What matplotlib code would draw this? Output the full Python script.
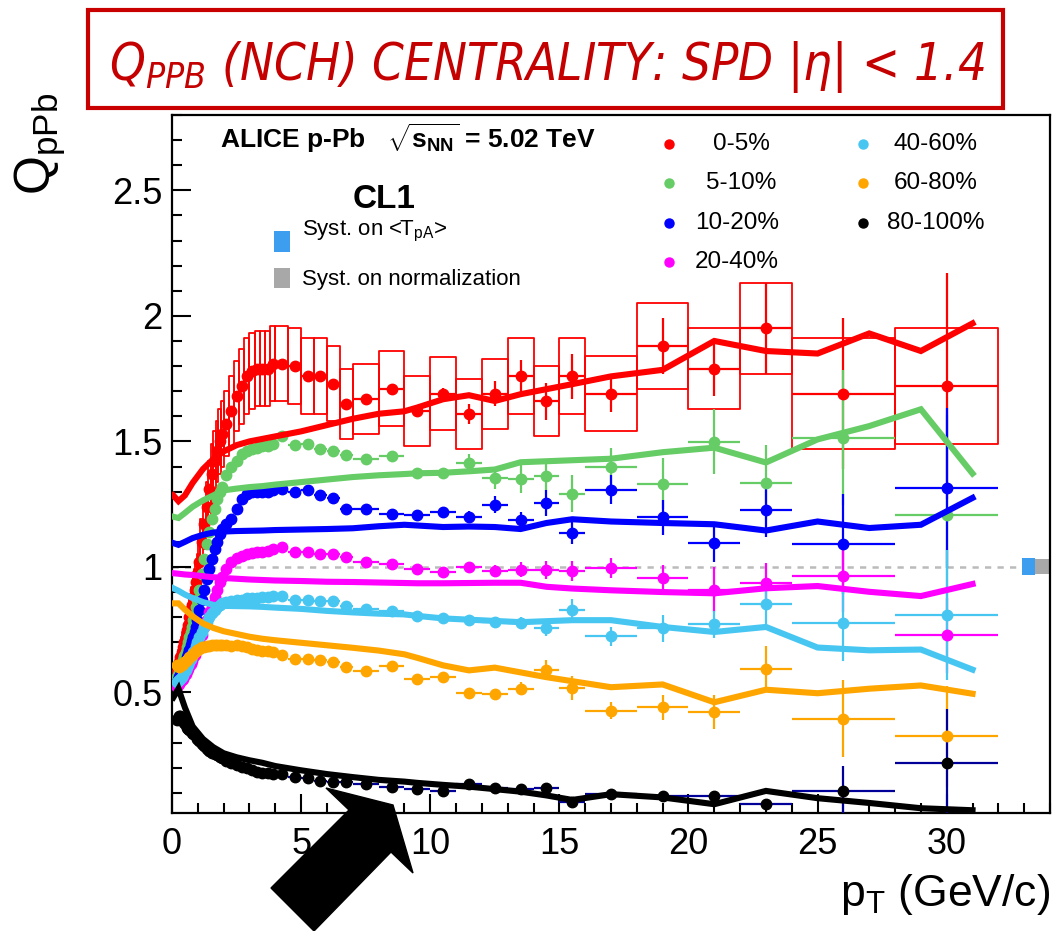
import matplotlib
matplotlib.use("Agg")
import numpy as np
import matplotlib.pyplot as plt
from matplotlib import font_manager
from matplotlib.font_manager import FontProperties
from matplotlib.patches import Rectangle, Polygon
from matplotlib.collections import PatchCollection
from matplotlib.lines import Line2D
from matplotlib.ticker import MultipleLocator, FuncFormatter

# pT bin edges (GeV/c)
pt_edges = [0.15, 0.2, 0.25, 0.3, 0.35, 0.4, 0.45, 0.5, 0.55, 0.6, 0.65, 0.7, 0.75,
            0.8, 0.85, 0.9, 0.95, 1.0, 1.1, 1.2, 1.3, 1.4, 1.5, 1.6, 1.7, 1.8, 1.9,
            2.0, 2.2, 2.4, 2.6, 2.8, 3.0, 3.2, 3.4, 3.6, 3.8, 4.0, 4.5, 5.0, 5.5,
            6.0, 6.5, 7.0, 8.0, 9.0, 10, 11, 12, 13, 14, 15, 16, 18, 20, 22, 24,
            28, 32]

centralities = ["0-5%", "5-10%", "10-20%", "20-40%", "40-60%", "60-80%", "80-100%"]

# Q_pPb data points, one value per pT bin
q_0_5 = [0.58, 0.60, 0.62, 0.64, 0.66, 0.68, 0.70, 0.72, 0.75, 0.77, 0.80, 0.82, 0.85,
         0.88, 0.91, 0.94, 0.97,
         1.02, 1.10, 1.17, 1.24, 1.31, 1.37, 1.42, 1.46, 1.50, 1.53,
         1.57, 1.62, 1.68, 1.72, 1.76, 1.78, 1.79, 1.79, 1.79, 1.81,
         1.81, 1.80, 1.76, 1.76, 1.73, 1.65,
         1.67, 1.71, 1.62, 1.69, 1.61, 1.69, 1.76, 1.66, 1.76, 1.69, 1.88, 1.79,
         1.95, 1.69, 1.72]
q_5_10 = [0.56, 0.57, 0.585, 0.60, 0.615, 0.63, 0.645, 0.66, 0.68, 0.70, 0.72, 0.74,
          0.76, 0.79, 0.81, 0.84, 0.87,
          0.91, 0.97, 1.03, 1.09, 1.14, 1.19, 1.23, 1.27, 1.30, 1.32,
          1.365, 1.40, 1.42, 1.45, 1.46, 1.47, 1.475, 1.48, 1.48, 1.49,
          1.52, 1.485, 1.49, 1.47, 1.46, 1.445,
          1.43, 1.44, 1.375, 1.375, 1.415, 1.355, 1.351, 1.361, 1.292, 1.397, 1.332,
          1.499, 1.335, 1.515, 1.205]
q_10_20 = [0.54, 0.55, 0.56, 0.57, 0.58, 0.595, 0.61, 0.625, 0.64, 0.655, 0.67, 0.69,
           0.705, 0.72, 0.74, 0.76, 0.79,
           0.83, 0.87, 0.91, 0.95, 0.99, 1.03, 1.07, 1.10, 1.13, 1.15,
           1.17, 1.19, 1.23, 1.27, 1.29, 1.30, 1.30, 1.30, 1.30, 1.305,
           1.31, 1.30, 1.305, 1.285, 1.275, 1.23,
           1.23, 1.21, 1.205, 1.217, 1.199, 1.248, 1.185, 1.255, 1.137, 1.308, 1.197,
           1.095, 1.228, 1.092, 1.315]
q_20_40 = [0.52, 0.53, 0.535, 0.54, 0.55, 0.555, 0.565, 0.575, 0.585, 0.595, 0.605,
           0.615, 0.625, 0.64, 0.65, 0.665, 0.68,
           0.70, 0.73, 0.76, 0.79, 0.82, 0.85, 0.88, 0.91, 0.94, 0.96,
           0.99, 1.02, 1.035, 1.045, 1.05, 1.055, 1.06, 1.06, 1.065, 1.07,
           1.08, 1.06, 1.06, 1.05, 1.05, 1.04,
           1.021, 1.012, 0.991, 0.981, 1.001, 0.984, 0.988, 0.988, 0.984, 0.995, 0.955,
           0.91, 0.937, 0.964, 0.728]
q_40_60 = [0.54, 0.545, 0.55, 0.555, 0.56, 0.57, 0.58, 0.59, 0.60, 0.61, 0.62, 0.635,
           0.645, 0.66, 0.67, 0.685, 0.70,
           0.72, 0.74, 0.76, 0.78, 0.80, 0.815, 0.83, 0.84, 0.85, 0.855,
           0.86, 0.865, 0.87, 0.87, 0.875, 0.875, 0.875, 0.88, 0.88, 0.885,
           0.885, 0.87, 0.87, 0.865, 0.865, 0.845,
           0.831, 0.825, 0.804, 0.795, 0.788, 0.781, 0.777, 0.755, 0.828, 0.724, 0.755,
           0.771, 0.851, 0.775, 0.808]
q_60_80 = [0.61, 0.605, 0.60, 0.605, 0.61, 0.615, 0.62, 0.625, 0.63, 0.635, 0.64, 0.645,
           0.65, 0.655, 0.66, 0.665, 0.67,
           0.675, 0.68, 0.68, 0.685, 0.685, 0.69, 0.69, 0.69, 0.69, 0.69,
           0.69, 0.685, 0.69, 0.685, 0.68, 0.675, 0.67, 0.665, 0.665, 0.66,
           0.65, 0.635, 0.635, 0.63, 0.62, 0.60,
           0.584, 0.604, 0.552, 0.561, 0.499, 0.495, 0.515, 0.588, 0.519, 0.428, 0.441,
           0.421, 0.595, 0.395, 0.325]
q_80_100 = [0.39, 0.40, 0.405, 0.405, 0.40, 0.39, 0.38, 0.37, 0.36, 0.355, 0.35, 0.345,
            0.34, 0.335, 0.33, 0.325, 0.315,
            0.305, 0.295, 0.285, 0.275, 0.268, 0.26, 0.255, 0.25, 0.243, 0.238,
            0.228, 0.218, 0.21, 0.203, 0.198, 0.192, 0.185, 0.18, 0.178, 0.175,
            0.175, 0.164, 0.159, 0.148, 0.145, 0.145,
            0.135, 0.124, 0.115, 0.108, 0.137, 0.119, 0.115, 0.121, 0.065, 0.095, 0.088,
            0.088, 0.057, 0.108, 0.221]

# statistical errors: below 7 GeV/c they are hidden by the markers
n_low = 43
stat_0_5 = [0] * n_low + [0.01, 0.015, 0.02, 0.023, 0.04, 0.05, 0.063, 0.073, 0.09,
                          0.073, 0.11, 0.11, 0.18, 0.30, 0.45]
stat_5_10 = [0] * n_low + [0.01, 0.01, 0.02, 0.02, 0.035, 0.043, 0.057, 0.053, 0.073,
                           0.075, 0.10, 0.13, 0.15, 0.27, 0.40]
stat_10_20 = [0] * n_low + [0.01, 0.012, 0.015, 0.02, 0.025, 0.033, 0.033, 0.053, 0.047,
                            0.057, 0.07, 0.075, 0.11, 0.20, 0.32]
stat_20_40 = [0] * n_low + [0.008, 0.01, 0.012, 0.015, 0.02, 0.025, 0.03, 0.035, 0.04,
                            0.04, 0.053, 0.09, 0.08, 0.144, 0.15]
stat_40_60 = [0] * n_low + [0.006, 0.008, 0.01, 0.012, 0.015, 0.02, 0.025, 0.03, 0.043,
                            0.037, 0.053, 0.053, 0.09, 0.15, 0.26]
stat_60_80 = [0] * n_low + [0.005, 0.006, 0.008, 0.01, 0.015, 0.02, 0.025, 0.04, 0.047,
                            0.033, 0.05, 0.067, 0.09, 0.153, 0.20]
stat_80_100 = [0] * n_low + [0.003, 0.004, 0.005, 0.006, 0.008, 0.01, 0.012, 0.015,
                             0.015, 0.015, 0.02, 0.02, 0.02, 0.10, 0.215]

# systematic uncertainty boxes (0-5% only)
sys_0_5 = [0.05, 0.05, 0.05, 0.05, 0.06, 0.06, 0.06, 0.06, 0.06, 0.07, 0.07, 0.07, 0.07,
           0.08, 0.08, 0.08, 0.08,
           0.09, 0.09, 0.10, 0.10, 0.11, 0.12, 0.12, 0.12, 0.13, 0.13,
           0.13, 0.14, 0.14, 0.15, 0.15, 0.15, 0.15, 0.15, 0.15, 0.15,
           0.15, 0.15, 0.15, 0.15, 0.15, 0.14,
           0.14, 0.15, 0.14, 0.145, 0.14, 0.14, 0.15, 0.14, 0.15, 0.15, 0.17, 0.16,
           0.18, 0.22, 0.23]

# model curves
model_pt = [0.05, 0.25, 0.5, 0.8, 1.2, 1.6, 2.0, 2.5, 3.0, 3.5, 4.0, 5.0, 6.0, 7.0, 8.0,
            9.0, 9.5, 10.5, 11.5, 12.5, 13.5, 14.5, 15.5, 17, 19, 21, 23, 25, 27, 29, 31]
model_0_5 = [1.285, 1.262, 1.285, 1.335, 1.39, 1.43, 1.46, 1.485, 1.50, 1.51, 1.52, 1.54,
             1.565, 1.59, 1.61, 1.62, 1.635, 1.668, 1.684, 1.661, 1.688, 1.708, 1.728,
             1.759, 1.785, 1.90, 1.86, 1.85, 1.93, 1.86, 1.97]
model_5_10 = [1.20, 1.195, 1.215, 1.24, 1.265, 1.285, 1.305, 1.312, 1.318, 1.322, 1.328,
              1.338, 1.348, 1.358, 1.365, 1.370, 1.373, 1.375, 1.381, 1.388, 1.417, 1.421,
              1.425, 1.431, 1.457, 1.475, 1.416, 1.508, 1.561, 1.628, 1.372]
model_10_20 = [1.095, 1.088, 1.10, 1.115, 1.128, 1.137, 1.141, 1.143, 1.144, 1.145, 1.147,
               1.149, 1.151, 1.154, 1.162, 1.168, 1.165, 1.159, 1.161, 1.159, 1.151, 1.175,
               1.19, 1.181, 1.175, 1.170, 1.145, 1.181, 1.155, 1.168, 1.275]
model_20_40 = [0.975, 0.973, 0.970, 0.968, 0.963, 0.959, 0.956, 0.953, 0.950, 0.948, 0.946,
               0.944, 0.941, 0.940, 0.938, 0.936, 0.935, 0.935, 0.936, 0.937, 0.937, 0.921,
               0.914, 0.907, 0.90, 0.895, 0.915, 0.924, 0.901, 0.884, 0.932]
model_40_60 = [0.915, 0.905, 0.89, 0.876, 0.86, 0.849, 0.845, 0.844, 0.843, 0.841, 0.838,
               0.833, 0.825, 0.819, 0.814, 0.811, 0.805, 0.795, 0.79, 0.785, 0.78, 0.784,
               0.788, 0.788, 0.761, 0.741, 0.761, 0.679, 0.668, 0.671, 0.591]
model_60_80 = [0.855, 0.855, 0.83, 0.803, 0.775, 0.757, 0.744, 0.733, 0.722, 0.714, 0.708,
               0.698, 0.688, 0.678, 0.667, 0.652, 0.638, 0.608, 0.588, 0.599, 0.58, 0.561,
               0.545, 0.521, 0.532, 0.461, 0.511, 0.497, 0.515, 0.528, 0.495]
model_80_100 = [0.48, 0.515, 0.44, 0.365, 0.315, 0.282, 0.258, 0.242, 0.23, 0.22, 0.207,
                0.19, 0.175, 0.163, 0.152, 0.145, 0.14, 0.132, 0.125, 0.115, 0.105, 0.09,
                0.072, 0.095, 0.082, 0.055, 0.108, 0.079, 0.06, 0.039, 0.031]

# global uncertainties drawn at Q = 1 (<T_pA>, normalization)
norm_unc = [0.034, 0.030]

points = [q_0_5, q_5_10, q_10_20, q_20_40, q_40_60, q_60_80, q_80_100]
stats = [stat_0_5, stat_5_10, stat_10_20, stat_20_40, stat_40_60, stat_60_80, stat_80_100]
models = [model_0_5, model_5_10, model_10_20, model_20_40, model_40_60, model_60_80,
          model_80_100]

colors = ["#ff0000", "#66cc66", "#0000ff", "#ff00ff", "#48c6f2", "#ffa500", "#000000"]
err_colors = ["#ff0000", "#66cc66", "#0000ff", "#ff00ff", "#48c6f2", "#ffa500", "#000099"]
blue_box = "#3d9ef0"
grey_box = "#a8a8a8"

plt.rcParams["font.family"] = ["Liberation Sans", "DejaVu Sans"]
plt.rcParams["mathtext.fontset"] = "custom"
plt.rcParams["mathtext.rm"] = "Liberation Sans"
plt.rcParams["mathtext.sf"] = "Liberation Sans"
plt.rcParams["mathtext.it"] = "Liberation Sans:italic"
plt.rcParams["mathtext.bf"] = "Liberation Sans:bold"

W, H = 1054, 931


def fx(x):
    return x / W


def fy(y):
    return 1 - y / H


fig = plt.figure(figsize=(W / 100, H / 100), dpi=100)
ax = fig.add_axes([fx(172), fy(813), (1050 - 172) / W, (813 - 115) / H])

edges = np.array(pt_edges)
lo, hi = edges[:-1], edges[1:]
pt = 0.5 * (lo + hi)

# systematic boxes for 0-5%
boxes = [Rectangle((l, v - s), h - l, 2 * s) for l, h, v, s in zip(lo, hi, q_0_5, sys_0_5)]
ax.add_collection(PatchCollection(boxes, facecolor="none", edgecolor="#ff0000",
                                  linewidth=1.3, zorder=2.5))

# reference line at 1 and global uncertainty boxes
ax.axhline(1, xmax=32.9 / 34, color="#bbbbbb", lw=1.8, ls=(0, (2.5, 2.5)), zorder=1)
ax.add_patch(Rectangle((32.9, 1 - norm_unc[0]), 0.5, 2 * norm_unc[0], fc=blue_box,
                       ec="none", zorder=2))
ax.add_patch(Rectangle((33.4, 1 - norm_unc[1]), 0.6, 2 * norm_unc[1], fc=grey_box,
                       ec="none", zorder=2))

for vals, err, c, ec in zip(points, stats, colors, err_colors):
    ax.errorbar(pt, vals, xerr=[pt - lo, hi - pt], yerr=err, fmt="o", ms=7.5,
                mfc=c, mec=c, ecolor=ec, elinewidth=1.6, capsize=0, zorder=3)

for m, c in zip(models, colors):
    ax.plot(model_pt, m, color=c, lw=4.4, zorder=4, solid_joinstyle="miter")

ax.set_xlim(0, 34)
ax.set_ylim(0.02, 2.8)
ax.xaxis.set_major_locator(MultipleLocator(5))
ax.xaxis.set_minor_locator(MultipleLocator(1))
ax.yaxis.set_major_locator(MultipleLocator(0.5))
ax.yaxis.set_minor_locator(MultipleLocator(0.1))
ax.yaxis.set_major_formatter(FuncFormatter(lambda v, _: f"{v:g}"))
ax.tick_params(which="both", direction="in", top=False, right=False, width=1.5)
ax.tick_params(which="major", length=14, labelsize=26)
ax.tick_params(axis="x", which="major", pad=10)
ax.tick_params(axis="y", which="major", pad=7)
ax.tick_params(which="minor", length=7)
for sp in ax.spines.values():
    sp.set_linewidth(1.6)

# axis titles
fig.text(fx(1050), fy(906), r"p$_{\rm T}$ (GeV/c)", ha="right", va="baseline", fontsize=32)
fig.text(fx(40), fy(93), r"Q$_{\rm pPb}$", rotation=90, ha="center", va="top", fontsize=36)

# labels in the frame
fig.text(fx(220), fy(148), r"ALICE p-Pb   $\mathbf{\sqrt{s_{NN}}}$ = 5.02 TeV",
         weight="bold", fontsize=19)
fig.text(fx(384), fy(208), "CL1", weight="bold", fontsize=24, ha="center")
fig.patches.append(Rectangle((fx(274), fy(252)), 16 / W, 21 / H, fc=blue_box, ec="none",
                             transform=fig.transFigure, figure=fig))
fig.patches.append(Rectangle((fx(274), fy(288)), 16 / W, 20 / H, fc=grey_box, ec="none",
                             transform=fig.transFigure, figure=fig))
fig.text(fx(302), fy(235), r"Syst. on <T$_{\rm pA}$>", fontsize=16)
fig.text(fx(302), fy(285), "Syst. on normalization", fontsize=16)

# legend
leg_x = [669, 669, 669, 669, 863, 863, 863]
leg_y = [144, 183, 223, 262, 144, 183, 223]
txt_x = [741, 741, 737, 737, 936, 936, 936]
for lab, c, mx, my, tx in zip(centralities, colors, leg_x, leg_y, txt_x):
    fig.add_artist(Line2D([fx(mx)], [fy(my)], marker="o", ms=6.5, color=c, ls="none",
                          transform=fig.transFigure))
    fig.text(fx(tx), fy(my), lab, ha="center", va="center", fontsize=17.5)

# header box
fig.patches.append(Rectangle((fx(88), fy(108)), (1003 - 88) / W, (108 - 10) / H,
                             fc="white", ec="#c80000", lw=3, transform=fig.transFigure,
                             figure=fig))
# a narrow slanted face for the header, if one is installed
head_font = None
for f in font_manager.fontManager.ttflist:
    if f.name == "Liberation Sans Narrow" and f.style == "italic" and f.weight == 400:
        head_font = FontProperties(fname=f.fname)
if head_font is None:
    for f in font_manager.fontManager.ttflist:
        if "DejaVuSansCondensed-Oblique" in f.fname:
            head_font = FontProperties(fname=f.fname)
if head_font is None:
    head_font = FontProperties(family="DejaVu Sans", style="italic")
title = fig.text(fx(547), fy(80), r"Q$_{\mathregular{PPB}}$ (NCH) CENTRALITY: SPD |η| < 1.4",
                 fontproperties=head_font, color="#c40000", ha="center", va="baseline")
title.set_fontsize(30)
fig.canvas.draw()
tw = title.get_window_extent().width
title.set_fontsize(30 * 875 / tw)

# big arrow
arrow_px = [(326, 788), (393, 805), (413, 873), (391, 852), (314, 931), (271, 888),
            (349, 810)]
fig.add_artist(Polygon([(fx(x), fy(y)) for x, y in arrow_px], closed=True, fc="black",
                       ec="black", transform=fig.transFigure, zorder=10))

fig.savefig("out.png", dpi=100)
